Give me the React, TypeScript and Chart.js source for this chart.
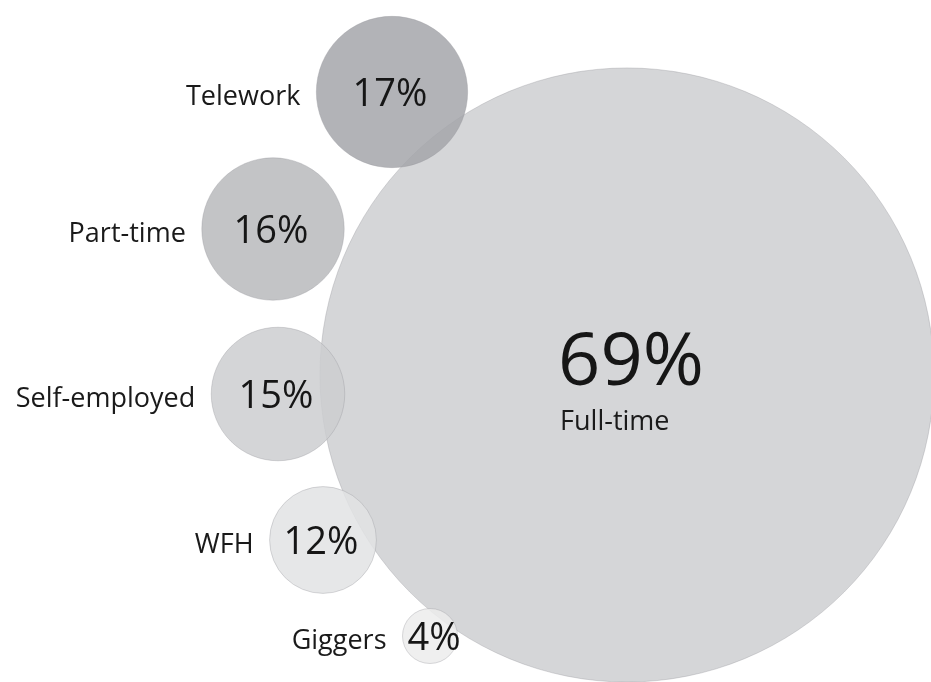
import React, { useEffect, useRef } from "react";
import { Chart, registerables } from "chart.js";

Chart.register(...registerables);

// Categories and their shares (%)
const categories = ["Full-time", "Telework", "Part-time", "Self-employed", "WFH", "Giggers"];
const shares = [69, 17, 16, 15, 12, 4];

// Layout of the packed bubbles (in layout units of the hidden scales)
const layoutX = [627, 392, 273, 278, 323, 430];
const layoutY = [375, 92, 229, 394, 540, 636];

// Bubble fills
const fills = [
  "rgb(213,214,216)",
  "rgba(164,166,170,0.85)",
  "rgba(184,186,188,0.85)",
  "rgba(204,206,208,0.85)",
  "rgba(226,227,228,0.85)",
  "rgba(236,236,236,0.85)",
];

const RADIUS_PER_PCT = 4.45;
const MIN_RADIUS = 27.5;
const FONT = '"Open Sans", "Noto Sans", sans-serif';

const labelPlugin = {
  id: "bubbleLabels",
  afterDatasetsDraw(chart: any) {
    const ctx = chart.ctx;
    const meta = chart.getDatasetMeta(0);
    ctx.save();
    meta.data.forEach((el: any, i: number) => {
      const { x, y } = el.getProps(["x", "y"], true);
      const r = el.options.radius;
      const pct = shares[i] + "%";
      if (i === 0) {
        ctx.font = `74px ${FONT}`;
        ctx.fillStyle = "#161616";
        ctx.textAlign = "left";
        ctx.textBaseline = "alphabetic";
        const w = ctx.measureText(pct).width;
        const left = x + 4 - w / 2;
        ctx.fillText(pct, left, y + 10);
        ctx.font = `27px ${FONT}`;
        ctx.fillStyle = "#1a1a1a";
        ctx.fillText(categories[i], left + 2, y + 55);
      } else {
        const small = r < 40;
        ctx.font = `38px ${FONT}`;
        ctx.fillStyle = "#161616";
        ctx.textAlign = "center";
        ctx.textBaseline = "alphabetic";
        ctx.fillText(pct, x + (small ? 4 : -2), y + 13.5);
        ctx.font = `27px ${FONT}`;
        ctx.fillStyle = "#1a1a1a";
        ctx.textAlign = "right";
        ctx.fillText(categories[i], x - r - 16, y + 13);
      }
    });
    ctx.restore();
  },
};

export default function App() {
  const canvasRef = useRef<HTMLCanvasElement | null>(null);

  useEffect(() => {
    if (!canvasRef.current) return;
    const data = shares.map((v, i) => ({
      x: layoutX[i],
      y: layoutY[i],
      r: Math.max(v * RADIUS_PER_PCT, MIN_RADIUS),
    }));
    const chart = new Chart(canvasRef.current, {
      type: "bubble",
      data: {
        labels: categories,
        datasets: [
          {
            data,
            backgroundColor: fills,
            borderColor: "rgba(150,150,155,0.35)",
            borderWidth: 1,
            hoverBorderWidth: 1,
            clip: false as any,
          },
        ],
      },
      options: {
        animation: false,
        responsive: true,
        maintainAspectRatio: false,
        layout: { padding: 0, autoPadding: false },
        plugins: {
          legend: { display: false },
          tooltip: { enabled: false },
        },
        scales: {
          x: { type: "linear", min: 0, max: 931, display: false },
          y: { type: "linear", min: 0, max: 682, reverse: true, display: false },
        },
      },
      plugins: [labelPlugin],
    });
    return () => chart.destroy();
  }, []);

  return (
    <div style={{ position: "fixed", left: 0, top: 0, width: 931, height: 682, background: "#fff" }}>
      <canvas ref={canvasRef} />
    </div>
  );
}
